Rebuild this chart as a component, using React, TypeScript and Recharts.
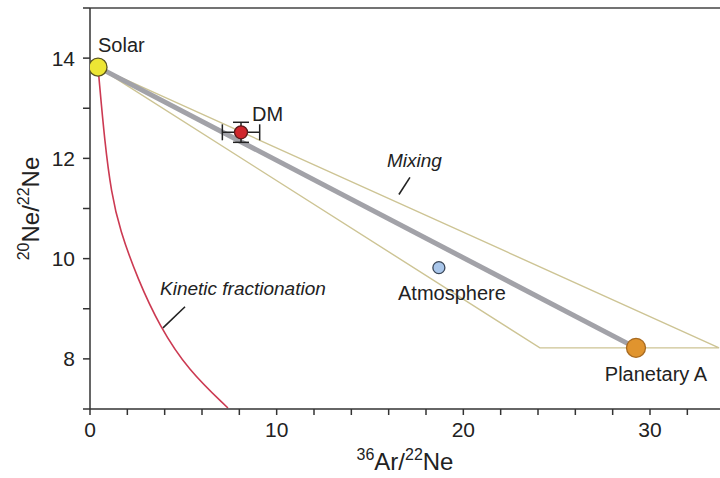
import React from "react";
import { ComposedChart, Line, Scatter, XAxis, YAxis, ErrorBar, ReferenceLine } from "recharts";

const FONT = '"Liberation Sans", Arial, Helvetica, sans-serif';

const X_TICKS = [0, 2, 4, 6, 8, 10, 12, 14, 16, 18, 20, 22, 24, 26, 28, 30, 32];
const Y_TICKS = [7, 8, 9, 10, 11, 12, 13, 14, 15];

// end members and samples
const POINTS = [
  { name: "Solar", x: 0.43, y: 13.82 },
  { name: "Atmosphere", x: 18.69, y: 9.82 },
  { name: "Planetary A", x: 29.25, y: 8.22 },
  { name: "DM", x: 8.09, y: 12.52 },
];
const DM_ERR = [{ x: 8.09, y: 12.52, ex: 1.0, ey: 0.2 }];

const MIXING_LINE = [
  { x: 0.43, y: 13.82 },
  { x: 29.25, y: 8.22 },
];
const ENVELOPE = [
  { x: 0.43, y: 13.82 },
  { x: 24.1, y: 8.22 },
  { x: 33.7, y: 8.22 },
  { x: 0.43, y: 13.82 },
];
const KINETIC = [
  { x: 0.43, y: 13.82 },
  { x: 0.47, y: 13.65 },
  { x: 0.79, y: 12.32 },
  { x: 1.14, y: 11.32 },
  { x: 1.59, y: 10.58 },
  { x: 2.57, y: 9.58 },
  { x: 3.73, y: 8.65 },
  { x: 5.25, y: 7.78 },
  { x: 7.39, y: 7.02 },
];

const LABELS = [
  { text: "Solar", x: 0.43, y: 14.12 },
  { text: "DM", x: 8.68, y: 12.74 },
  { text: "Mixing", x: 15.91, y: 11.82 },
  { text: "Atmosphere", x: 16.5, y: 9.18 },
  { text: "Planetary A", x: 27.58, y: 7.56 },
  { text: "Kinetic fractionation", x: 3.75, y: 9.28 },
];
const LEADERS = [
  [{ x: 3.91, y: 8.62 }, { x: 5.09, y: 9.04 }],
  [{ x: 16.55, y: 11.28 }, { x: 17.14, y: 11.62 }],
];

const POINT_STYLE: Record<string, { r: number; fill: string; stroke: string }> = {
  Solar: { r: 9, fill: "#ede634", stroke: "#5a5520" },
  DM: { r: 6.5, fill: "#d0262c", stroke: "#5a1a1a" },
  Atmosphere: { r: 6, fill: "#a9c6ea", stroke: "#3a4658" },
  "Planetary A": { r: 9.5, fill: "#e0942e", stroke: "#a86a20" },
};
const ITALIC = ["Mixing", "Kinetic fractionation"];

function PointShape(props: any) {
  const s = POINT_STYLE[props.payload.name];
  return <circle cx={props.cx} cy={props.cy} r={s.r} fill={s.fill} stroke={s.stroke} strokeWidth={1.3} />;
}

function LabelShape(props: any) {
  const t = props.payload.text;
  return (
    <text
      x={props.cx}
      y={props.cy}
      fontFamily={FONT}
      fontSize={ITALIC.includes(t) ? 19 : 20}
      fontStyle={ITALIC.includes(t) ? "italic" : "normal"}
      fill="#222"
    >
      {t}
    </text>
  );
}

function XTitle(props: any) {
  const vb = props.viewBox;
  return (
    <text x={vb.x + vb.width / 2} y={vb.y + 61} textAnchor="middle" fontFamily={FONT} fontSize={24} fill="#222">
      <tspan fontSize={16} dy={-10}>36</tspan>
      <tspan dy={10}>Ar/</tspan>
      <tspan fontSize={16} dy={-10}>22</tspan>
      <tspan dy={10}>Ne</tspan>
    </text>
  );
}

function YTitle(props: any) {
  const vb = props.viewBox;
  const cx = 39;
  const cy = vb.y + vb.height / 2;
  return (
    <text
      x={cx}
      y={cy}
      transform={`rotate(-90 ${cx} ${cy})`}
      textAnchor="middle"
      fontFamily={FONT}
      fontSize={24}
      fill="#222"
    >
      <tspan fontSize={16} dy={-10}>20</tspan>
      <tspan dy={10}>Ne/</tspan>
      <tspan fontSize={16} dy={-10}>22</tspan>
      <tspan dy={10}>Ne</tspan>
    </text>
  );
}

export default function App() {
  return (
    <div style={{ position: "absolute", left: 0, top: 0, background: "#fff" }}>
      <ComposedChart width={720} height={478} margin={{ top: 8, right: 0, left: 0, bottom: 0 }}>
        <XAxis
          dataKey="x"
          type="number"
          domain={[0, 33.75]}
          allowDataOverflow
          ticks={X_TICKS}
          tickFormatter={(v) => (v % 10 === 0 ? String(v) : "")}
          tickSize={6}
          tickMargin={7}
          height={69}
          stroke="#333"
          strokeWidth={1.5}
          tick={{ fill: "#222", fontSize: 21, fontFamily: FONT }}
          label={{ content: XTitle }}
        />
        <YAxis
          dataKey="y"
          type="number"
          domain={[7, 15]}
          allowDataOverflow
          ticks={Y_TICKS}
          tickFormatter={(v) => (v % 2 === 0 ? String(v) : "")}
          tickSize={7}
          tickMargin={8}
          width={90}
          stroke="#333"
          strokeWidth={1.5}
          tick={{ fill: "#222", fontSize: 21, fontFamily: FONT }}
          label={{ content: YTitle }}
        />
        <ReferenceLine y={15} stroke="#444" strokeWidth={1.5} />
        <Line
          data={ENVELOPE}
          dataKey="y"
          type="linear"
          stroke="#cdc494"
          strokeWidth={1.4}
          dot={false}
          activeDot={false}
          isAnimationActive={false}
        />
        <Line
          data={MIXING_LINE}
          dataKey="y"
          type="linear"
          stroke="#a2a2a8"
          strokeWidth={5}
          dot={false}
          activeDot={false}
          isAnimationActive={false}
        />
        <Line
          data={KINETIC}
          dataKey="y"
          type="basis"
          stroke="#cc3a52"
          strokeWidth={1.6}
          dot={false}
          activeDot={false}
          isAnimationActive={false}
        />
        {LEADERS.map((seg, i) => (
          <ReferenceLine key={i} segment={seg} stroke="#222" strokeWidth={1.6} />
        ))}
        <Scatter data={DM_ERR} shape={() => <g />} isAnimationActive={false}>
          <ErrorBar dataKey="ex" direction="x" width={8} stroke="#222" strokeWidth={1.5} />
          <ErrorBar dataKey="ey" direction="y" width={8} stroke="#222" strokeWidth={1.5} />
        </Scatter>
        <Scatter data={POINTS} shape={PointShape} isAnimationActive={false} />
        <Scatter data={LABELS} shape={LabelShape} isAnimationActive={false} />
      </ComposedChart>
    </div>
  );
}
